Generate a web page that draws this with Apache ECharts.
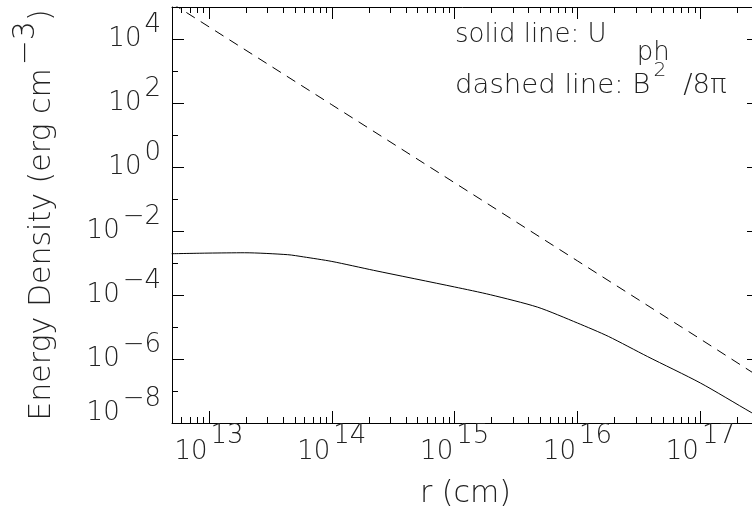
<!DOCTYPE html>
<html>
<head>
<meta charset="utf-8">
<script src="https://cdn.jsdelivr.net/npm/echarts@6/dist/echarts.min.js"></script>
<style>html,body{margin:0;padding:0;background:#fff;}#c{width:752px;height:517px;}</style>
</head>
<body>
<div id="c"></div>
<script>
// ---- data ----
const rSolid = [4.97e12, 1.0e13, 1.95e13, 4.37e13, 5.9e13, 1.0e14, 2.19e14, 1.0e15, 1.95e15, 4.73e15, 1.0e16, 1.78e16, 3.7e16, 1.0e17, 2.59e17, 3.0e17];
const uPh    = [1.95e-3, 2.04e-3, 2.09e-3, 1.82e-3, 1.55e-3, 1.12e-3, 5.9e-4, 1.78e-4, 1.02e-4, 4.17e-5, 1.33e-5, 5.1e-6, 1.2e-6, 1.78e-7, 2.14e-8, 1.6e-8];
const rDashed = [5e12, 1e13, 1e14, 1e15, 1e16, 1e17, 3e17];
const uB      = [1.3e5, 2.4e4, 88, 0.32, 1.16e-3, 4.2e-6, 2.8e-7];

const xMajorTicks = [1e13, 1e14, 1e15, 1e16, 1e17];
const yLabelTicks = [1e-8, 1e-6, 1e-4, 1e-2, 1e0, 1e2, 1e4];
const yOddTicks   = [1e-7, 1e-5, 1e-3, 1e-1, 1e1, 1e3];
const xName = 'r (cm)';
const yNameMain = 'Energy Density (erg cm';
const yNameExp = '−3';
const legendSolid = ['solid line: U', 'ph'];
const legendDashed = ['dashed line: B', '2', '/8π'];

const xMin = 5e12, xMax = 3e17, yMin = 1e-8, yMax = 1e5;

const xMinorTicks = [];
for (let e = 12; e <= 17; e++) for (let k = 2; k <= 9; k++) {
  const v = k * Math.pow(10, e);
  if (v >= xMin && v <= xMax) xMinorTicks.push(v);
}

const FONT = '"DejaVu Sans"';
const FW = 200;
const TC = '#222';
const FS = 26;

function expOf(v) { return Math.round(Math.log10(v)); }
function expStr(n) { return n < 0 ? '−' + Math.abs(n) : String(n); }

function st(extra) {
  return Object.assign({fontFamily: FONT, fontWeight: FW, fontSize: FS, lineHeight: FS, color: TC}, extra);
}
const labelRich = {
  b:  st({padding: [14, 0, 14, 0]}),
  s:  st({padding: [0, 0, 28, 3]}),
  b8: st({padding: [14, 0, 34, 0]}),
  s8: st({padding: [0, 0, 48, 3]})
};
const xLabelRich = {
  b: st({padding: [16, 0, 0, 0]}),
  s: st({padding: [0, 0, 16, 3]})
};

function tickAxis(kind, pos, ticks, len, showLine, label) {
  const ax = {
    type: 'log', logBase: 10, gridIndex: 0, position: pos,
    min: kind === 'x' ? xMin : yMin, max: kind === 'x' ? xMax : yMax,
    axisLine: {show: showLine, lineStyle: {color: '#000', width: 1}},
    axisTick: {show: true, inside: true, length: len, customValues: ticks, lineStyle: {color: '#000', width: 1}},
    minorTick: {show: false}, splitLine: {show: false}, minorSplitLine: {show: false},
    axisLabel: {show: false}, axisPointer: {show: false}
  };
  if (label) ax.axisLabel = label;
  return ax;
}

const xLabel = {
  show: true, customValues: xMajorTicks, margin: 8, rich: xLabelRich,
  formatter: v => '{b|10}{s|' + expStr(expOf(v)) + '}'
};
const yLabel = {
  show: true, customValues: yLabelTicks, margin: 11, rich: labelRich,
  formatter: v => { const n = expOf(v); return n === -8 ? '{b8|10}{s8|' + expStr(n) + '}' : '{b|10}{s|' + expStr(n) + '}'; }
};

const xAxes = [
  tickAxis('x', 'bottom', xMajorTicks, 12, true, xLabel),
  tickAxis('x', 'bottom', xMinorTicks, 6, false),
  tickAxis('x', 'top', xMajorTicks, 12, true),
  tickAxis('x', 'top', xMinorTicks, 6, false)
];
Object.assign(xAxes[0], {
  name: xName, nameLocation: 'middle', nameGap: 56,
  nameTextStyle: {fontFamily: FONT, fontWeight: FW, fontSize: 30, color: TC}
});
const YF = 30;
const yAxes = [
  tickAxis('y', 'left', yLabelTicks, 12, true, yLabel),
  tickAxis('y', 'left', yOddTicks, 6, false),
  tickAxis('y', 'right', yLabelTicks, 12, true),
  tickAxis('y', 'right', yOddTicks, 6, false)
];
Object.assign(yAxes[0], {
  name: '{t|' + yNameMain + '}{s|' + yNameExp + '}{t|)}', nameLocation: 'middle', nameGap: 123,
  nameTextStyle: {
    fontFamily: FONT, fontWeight: FW, fontSize: YF, color: TC,
    rich: {
      t: {fontFamily: FONT, fontWeight: FW, fontSize: YF, lineHeight: YF, color: TC, padding: [16, 0, 0, 0]},
      s: {fontFamily: FONT, fontWeight: FW, fontSize: YF, lineHeight: YF, color: TC, padding: [0, 0, 16, 3]}
    }
  }
});

const LF = 26;
function lst(extra) {
  return Object.assign({fontFamily: FONT, fontWeight: FW, fontSize: LF, lineHeight: LF, fill: TC, color: TC}, extra);
}
const legRich = {
  tt:  lst({padding: [0, 0, 18, 0]}),
  sub: lst({padding: [18, 0, 0, 30]}),
  t:   lst({padding: [11, 0, 0, 0]}),
  sup: lst({fontSize: 19, lineHeight: 19, padding: [0, 0, 18, 3]}),
  tp:  lst({padding: [11, 0, 0, 16]})
};

const chart = echarts.init(document.getElementById('c'), null, {renderer: 'canvas'});
chart.setOption({
  animation: false,
  backgroundColor: '#fff',
  grid: {left: 172, right: -7, top: 7, bottom: 94, containLabel: false, outerBoundsMode: 'none'},
  xAxis: xAxes,
  yAxis: yAxes,
  graphic: [
    {type: 'text', left: 455, top: 22, z: 10, style: {
      text: '{tt|' + legendSolid[0] + '}{sub|' + legendSolid[1] + '}', rich: legRich,
      font: FW + ' ' + LF + 'px ' + FONT, fill: TC}},
    {type: 'text', left: 455, top: 62, z: 10, scaleX: 1.06, style: {
      text: '{t|' + legendDashed[0] + '}{sup|' + legendDashed[1] + '}{tp|' + legendDashed[2] + '}', rich: legRich,
      font: FW + ' ' + LF + 'px ' + FONT, fill: TC}}
  ],
  series: [
    {type: 'line', xAxisIndex: 0, yAxisIndex: 0, data: rSolid.map((r, i) => [r, uPh[i]]),
     showSymbol: false, symbol: 'none', smooth: 0.25, clip: true,
     lineStyle: {color: '#000', width: 1}},
    {type: 'line', xAxisIndex: 0, yAxisIndex: 0, data: rDashed.map((r, i) => [r, uB[i]]),
     showSymbol: false, symbol: 'none', clip: true,
     lineStyle: {color: '#000', width: 1, type: [10, 7]}}
  ]
});
</script>
</body>
</html>
